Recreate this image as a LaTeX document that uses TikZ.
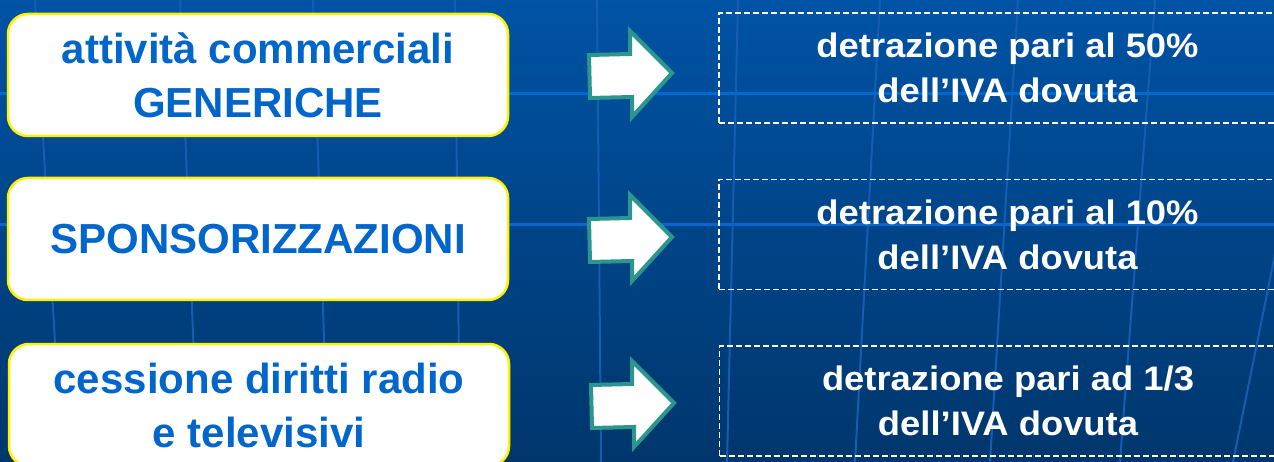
\documentclass[tikz,border=0pt]{standalone}
\usepackage{fontspec}
\setmainfont{Liberation Sans}
\newfontfamily\widefont[FakeStretch=1.07]{Liberation Sans}
\definecolor{bgtop}{RGB}{0,83,165}
\definecolor{bgbot}{RGB}{0,54,108}
\definecolor{gridc}{RGB}{22,92,178}
\definecolor{hlinec}{RGB}{0,104,210}
\definecolor{txtblue}{RGB}{0,102,204}
\definecolor{arrowteal}{RGB}{42,150,140}
\begin{document}
\begin{tikzpicture}[x=1pt,y=-1pt,
  gridline/.style={draw=gridc,line width=2pt},
  brightline/.style={draw=hlinec,line width=3pt},
  leftbox/.style={draw=yellow,line width=2.5pt,fill=white,rounded corners=20pt,
    minimum width=500pt,minimum height=122pt,inner sep=0pt,align=center,
    text=txtblue,font=\fontsize{42}{54}\selectfont\bfseries},
  rightbox/.style={draw=white,dashed,dash pattern=on 6pt off 3pt,line width=1.5pt,
    minimum width=577pt,minimum height=110pt,inner sep=0pt,align=center,
    text=white,font=\widefont\fontsize{34}{45}\selectfont\bfseries},
  blockarrow/.pic={\draw[draw=arrowteal,fill=white,line width=4pt,line join=miter]
    (2,-18) -- (43,-19) -- (43,-42) -- (85,0) -- (45,44) -- (45,24) -- (3,25) -- cycle;}
]
\useasboundingbox (0,0) rectangle (1274,462);
\clip (0,0) rectangle (1274,462);
\shade[top color=bgtop,bottom color=bgbot] (0,0) rectangle (1274,462);
% faint perspective grid
\draw[gridline] (35,0) -- (62,462);
\draw[gridline] (180,0) -- (198,462);
\draw[gridline] (313,0) -- (328,462);
\draw[gridline] (455,0) -- (460,462);
\draw[gridline] (597,0) -- (601,462);
\draw[gridline] (738,0) -- (727,462);
\draw[gridline] (880,0) -- (855,462);
\draw[gridline] (1018,0) -- (990,462);
\draw[gridline] (1155,0) -- (1120,462);
\draw[gridline] (1290,180) -- (1233,462);
\draw[brightline] (0,94) -- (1274,94);
\draw[brightline] (0,225) -- (1274,225);
% left boxes
\node[leftbox] (l1) at (258,75) {attività commerciali\\GENERICHE};
\node[leftbox] (l2) at (258,239) {SPONSORIZZAZIONI};
\node[leftbox] (l3) at (259,405) {cessione diritti radio\\e televisivi};
% right boxes
\node[rightbox] (r1) at (1007.5,68) {detrazione pari al 50\%\\dell’IVA dovuta};
\node[rightbox] (r2) at (1007.5,234.5) {detrazione pari al 10\%\\dell’IVA dovuta};
\node[rightbox] (r3) at (1008,401) {detrazione pari ad 1/3\\dell’IVA dovuta};
% block arrows
\pic at (587,73) {blockarrow};
\pic at (587,237) {blockarrow};
\pic at (589,403) {blockarrow};
\end{tikzpicture}
\end{document}
